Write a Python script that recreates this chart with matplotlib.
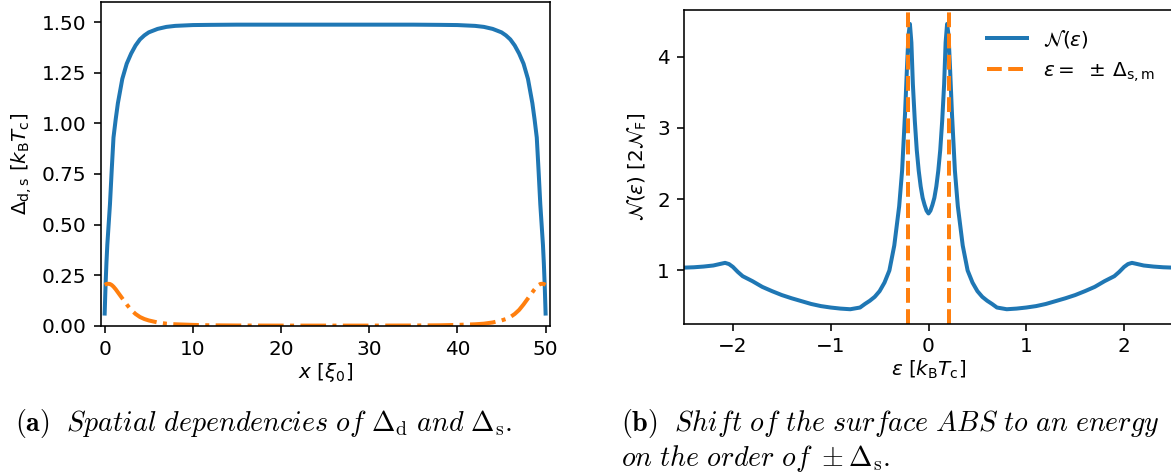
import numpy as np
import matplotlib
matplotlib.use('Agg')
import matplotlib.pyplot as plt

# left panel: order parameter profiles (symmetric about x = 25)
x_half = [0, 0.1, 0.2, 0.3, 0.45, 0.6, 0.8, 1.0, 1.25, 1.5, 1.75, 2.0, 2.5, 3.0, 3.5, 4.0, 4.5, 5.0,
          6.0, 7.0, 8.0, 10.0, 12.0, 15.0, 20.0, 25.0]
delta_d_half = [0.06, 0.20, 0.31, 0.40, 0.50, 0.60, 0.77, 0.93, 1.02, 1.10, 1.16, 1.22, 1.295, 1.345, 1.385, 1.415, 1.435, 1.45,
                1.467, 1.477, 1.482, 1.486, 1.487, 1.488, 1.488, 1.488]
delta_s_half = [0.202, 0.204, 0.206, 0.207, 0.207, 0.206, 0.201, 0.193, 0.18, 0.165, 0.15, 0.135, 0.105, 0.078, 0.058, 0.043, 0.033, 0.026,
                0.016, 0.010, 0.007, 0.004, 0.002, 0.001, 0.0005, 0.0005]

# right panel: density of states (symmetric about eps = 0)
eps_half = [-2.5, -2.4, -2.3, -2.2, -2.12, -2.08, -2.04, -2.0, -1.95, -1.9, -1.8, -1.7, -1.6, -1.5, -1.4, -1.3,
            -1.2, -1.1, -1.0, -0.9, -0.8, -0.7, -0.65, -0.6, -0.55, -0.5, -0.45, -0.4, -0.35, -0.3, -0.27,
            -0.24, -0.22, -0.205, -0.19, -0.175, -0.16, -0.14, -0.12, -0.1, -0.08, -0.06, -0.04, -0.02, 0.0]
dos_half = [1.04, 1.045, 1.055, 1.07, 1.095, 1.107, 1.09, 1.05, 0.98, 0.92, 0.85, 0.77, 0.71, 0.655, 0.61, 0.57,
            0.53, 0.50, 0.48, 0.465, 0.456, 0.48, 0.53, 0.575, 0.63, 0.71, 0.83, 1.0, 1.35, 1.9, 2.4,
            3.2, 3.85, 4.3, 4.46, 4.2, 3.62, 3.1, 2.69, 2.4, 2.18, 2.02, 1.92, 1.84, 1.80]
delta_s_max = 0.207

x = np.array(x_half[:-1] + [50 - v for v in x_half[::-1]])
delta_d = np.array(delta_d_half[:-1] + delta_d_half[::-1])
delta_s = np.array(delta_s_half[:-1] + delta_s_half[::-1])
eps = np.array(eps_half[:-1] + [-v for v in eps_half[::-1]])
dos = np.array(dos_half[:-1] + dos_half[::-1])

plt.rcParams['mathtext.fontset'] = 'dejavusans'
W, H = 1171, 475
dpi = 144
fig = plt.figure(figsize=(W / dpi, H / dpi), dpi=dpi)

ax1 = fig.add_axes([100.7 / W, 1 - 325.7 / H, (550 - 100.7) / W, (325.7 - 2) / H])
ax1.plot(x, delta_d, color='#1f77b4', lw=2)
ax1.plot(x, delta_s, color='#ff7f0e', lw=2, ls='-.')
ax1.set_xlim(-0.45, 50.5)
ax1.set_ylim(0, 1.6)
ax1.set_yticks([0, 0.25, 0.5, 0.75, 1.0, 1.25, 1.5])
ax1.set_xticks([0, 10, 20, 30, 40, 50])
ax1.set_xlabel(r'$x$ [$\xi_0$]', labelpad=1)
ax1.set_ylabel(r'$\Delta_\mathrm{d,s}$ [$k_\mathrm{B}T_\mathrm{c}$]')

ax2 = fig.add_axes([684 / W, 1 - 323.5 / H, (1173 - 684) / W, (323.5 - 9.7) / H])
ax2.plot(eps, dos, color='#1f77b4', lw=2, label=r'$\mathcal{N}(\varepsilon)$')
ax2.axvline(-delta_s_max, color='#ff7f0e', lw=2, ls='--', label=r'$\varepsilon =\ \pm\,\Delta_\mathrm{s,m}$')
ax2.axvline(delta_s_max, color='#ff7f0e', lw=2, ls='--')
ax2.set_xlim(-2.5, 2.5)
ax2.set_yticks([1, 2, 3, 4])
ax2.set_xlabel(r'$\varepsilon$ [$k_\mathrm{B}T_\mathrm{c}$]', labelpad=1)
ax2.set_ylabel(r'$\mathcal{N}(\varepsilon)$ [$2\mathcal{N}_\mathrm{F}$]')
ax2.legend(loc='upper right', frameon=False, bbox_to_anchor=(1.0, 1.0))

cap = {'fontsize': 14, 'math_fontfamily': 'cm'}
fig.text(15 / W, 1 - 423 / H,
         r'$\mathbf{(a)}\ \ \mathit{Spatial\ dependencies\ of}\ \Delta_\mathrm{d}\ \mathit{and}\ \Delta_\mathrm{s}.$',
         va='center', ha='left', **cap)
fig.text(621 / W, 1 - 423 / H,
         r'$\mathbf{(b)}\ \ \mathit{Shift\ of\ the\ surface\ ABS\ to\ an\ energy}$',
         va='center', ha='left', **cap)
fig.text(621 / W, 1 - 458 / H,
         r'$\mathit{on\ the\ order\ of}\ \pm\Delta_\mathrm{s}.$',
         va='center', ha='left', **cap)

fig.savefig('out.png', dpi=dpi)
